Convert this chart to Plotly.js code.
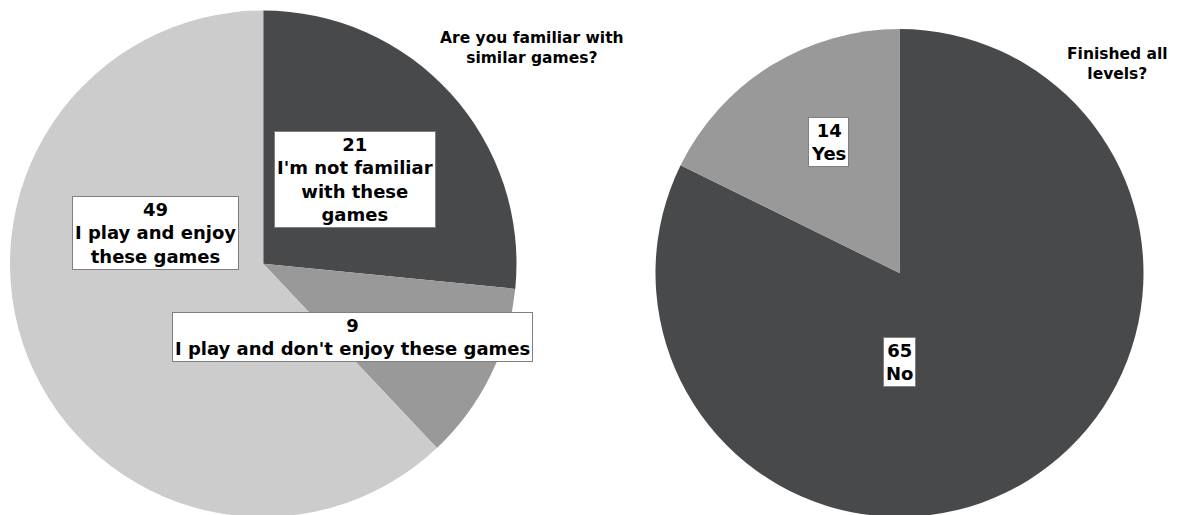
<!DOCTYPE html>
<html>
<head>
<meta charset="utf-8">
<script src="https://cdn.plot.ly/plotly-3.0.1.min.js"></script>
<style>
  html, body { margin: 0; padding: 0; overflow: hidden; background: #fff; }
  #chart { width: 1180px; height: 530px; }
</style>
</head>
<body>
<div id="chart"></div>
<script>
// ---- data ----
const familiarTitle = "Are you familiar with<br>similar games?";
const familiarLabels = ["I'm not familiar<br>with these<br>games", "I play and don't enjoy these games", "I play and enjoy<br>these games"];
const familiarValues = [21, 9, 49];

const finishedTitle = "Finished all<br>levels?";
const finishedLabels = ["No", "Yes"];
const finishedValues = [65, 14];

// ---- styles ----
const DARK = "#48494b", MID = "#999999", LIGHT = "#cccccc";
const W = 1180, H = 530;
const px = x => x / W;
const py = y => 1 - y / H;
const FAMILY = "DejaVu Sans, Liberation Sans, Arial, sans-serif";

const traces = [
  {
    type: "pie", values: familiarValues, labels: familiarLabels,
    sort: false, direction: "clockwise", rotation: 0,
    marker: { colors: [DARK, MID, LIGHT], line: { width: 0 } },
    textinfo: "none", hoverinfo: "none",
    domain: { x: [px(9.5), px(517)], y: [py(517), py(10.5)] }
  },
  {
    type: "pie", values: finishedValues, labels: finishedLabels,
    sort: false, direction: "clockwise", rotation: 0,
    marker: { colors: [DARK, MID], line: { width: 0 } },
    textinfo: "none", hoverinfo: "none",
    domain: { x: [px(655.5), px(1143.5)], y: [py(517), py(29)] }
  }
];

const labelFont = { family: FAMILY, size: 18, color: "#000", weight: "bold" };
const box = (text, x, y) => ({
  text: text, x: px(x), y: py(y), xref: "paper", yref: "paper",
  showarrow: false, xanchor: "center", yanchor: "middle",
  bgcolor: "#ffffff", bordercolor: "#7f7f7f", borderwidth: 1, borderpad: 2,
  font: labelFont
});
const titleFont = { family: FAMILY, size: 15.5, color: "#000", weight: "bold" };

const annotations = [
  box(familiarValues[0] + "<br>" + familiarLabels[0], 355, 180),
  box(familiarValues[1] + "<br>" + familiarLabels[1], 352, 337),
  box(familiarValues[2] + "<br>" + familiarLabels[2], 155, 233),
  box(finishedValues[0] + "<br>" + finishedLabels[0], 899, 362),
  box(finishedValues[1] + "<br>" + finishedLabels[1], 828, 142),
  {
    text: familiarTitle, x: px(532), y: py(48), xref: "paper", yref: "paper",
    showarrow: false, xanchor: "center", yanchor: "middle", font: titleFont
  },
  {
    text: finishedTitle, x: px(1117), y: py(64), xref: "paper", yref: "paper",
    showarrow: false, xanchor: "center", yanchor: "middle", font: titleFont
  }
];

Plotly.newPlot("chart", traces, {
  width: W, height: H,
  margin: { l: 0, r: 0, t: 0, b: 0 },
  paper_bgcolor: "#ffffff",
  showlegend: false,
  annotations: annotations
}, { displayModeBar: false, staticPlot: true });
</script>
</body>
</html>
